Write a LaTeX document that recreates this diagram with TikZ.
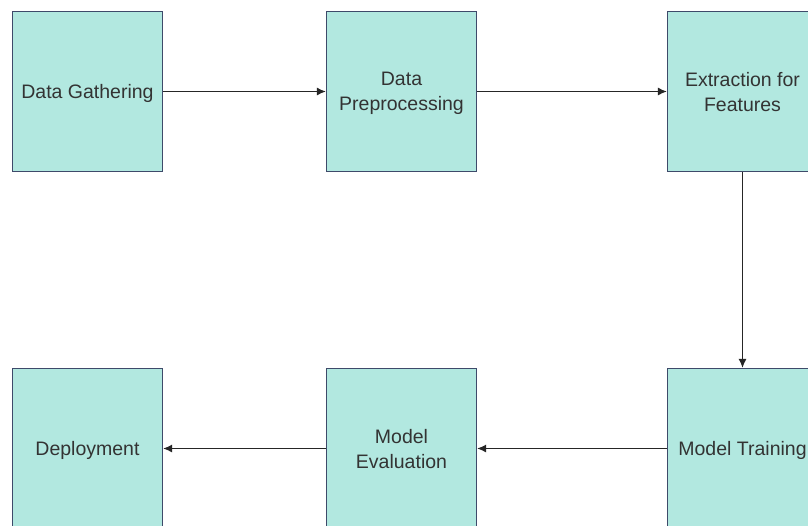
\documentclass[tikz,border=0pt]{standalone}
\usepackage{fontspec}
\setmainfont{Liberation Sans}
\usetikzlibrary{arrows.meta}
\definecolor{boxfill}{HTML}{B2E8E0}
\definecolor{boxline}{HTML}{3E4A6A}
\definecolor{txt}{HTML}{333333}
\begin{document}
\begin{tikzpicture}[x=1pt,y=-1pt,
  stepbox/.style={draw=boxline, fill=boxfill, line width=1.2pt, minimum width=150pt, minimum height=160pt,
    inner sep=0pt, align=center, text=txt, text depth=-1pt, font=\fontsize{19.5}{25}\selectfont},
  conn/.style={draw=black!85, line width=1.3pt, -{Latex[length=9pt,width=8pt]}}]
\useasboundingbox (0,0) rectangle (808,525);
\clip (0,0) rectangle (808,525);
\fill[white] (0,0) rectangle (808,525);
\node[stepbox] (a) at (87.5,91.5) {Data Gathering};
\node[stepbox] (b) at (401.5,91.5) {Data\\Preprocessing};
\node[stepbox] (c) at (742.5,91.5) {Extraction for\\Features};
\node[stepbox] (d) at (742.5,448.5) {Model Training};
\node[stepbox] (e) at (401.5,448.5) {Model\\Evaluation};
\node[stepbox] (f) at (87.5,448.5) {Deployment};
\draw[conn] (a) -- (b);
\draw[conn] (b) -- (c);
\draw[conn] (c) -- (d);
\draw[conn] (d) -- (e);
\draw[conn] (e) -- (f);
\end{tikzpicture}
\end{document}
